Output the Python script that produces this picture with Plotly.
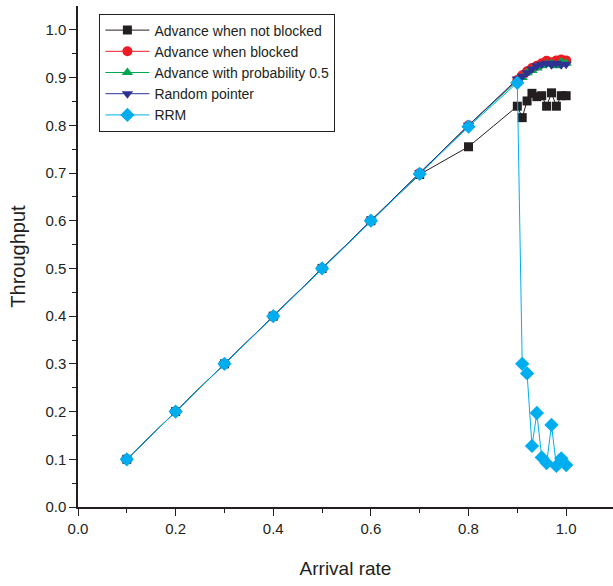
import plotly.graph_objects as go

x_low = [0.1, 0.2, 0.3, 0.4, 0.5, 0.6, 0.7, 0.8]
x_high = [0.90, 0.91, 0.92, 0.93, 0.94, 0.95, 0.96, 0.97, 0.98, 0.99, 1.00]
x_vals = x_low + x_high

y_not_blocked = [0.10, 0.20, 0.30, 0.40, 0.50, 0.60, 0.697, 0.755,
                 0.840, 0.816, 0.851, 0.867, 0.860, 0.862, 0.840, 0.868, 0.840, 0.862, 0.862]
y_blocked = [0.10, 0.20, 0.30, 0.40, 0.50, 0.60, 0.70, 0.80,
             0.895, 0.905, 0.913, 0.920, 0.925, 0.930, 0.935, 0.932, 0.936, 0.938, 0.936]
y_prob = [0.10, 0.20, 0.30, 0.40, 0.50, 0.60, 0.70, 0.80,
          0.893, 0.900, 0.910, 0.915, 0.920, 0.925, 0.928, 0.930, 0.925, 0.933, 0.930]
y_random = [0.10, 0.20, 0.30, 0.40, 0.50, 0.60, 0.70, 0.80,
            0.897, 0.903, 0.910, 0.918, 0.925, 0.928, 0.930, 0.927, 0.930, 0.927, 0.928]
y_rrm = [0.10, 0.20, 0.30, 0.40, 0.50, 0.60, 0.698, 0.797,
         0.889, 0.300, 0.280, 0.128, 0.197, 0.104, 0.092, 0.172, 0.086, 0.102, 0.088]

names = ["Advance when not blocked", "Advance when blocked",
         "Advance with probability 0.5", "Random pointer", "RRM"]
colors = ["#231f20", "#ed1c24", "#00a651", "#2e3192", "#00aeef"]
symbols = ["square", "circle", "triangle-up", "triangle-down", "diamond"]
sizes = [9, 10, 10, 10, 11]
series = [y_not_blocked, y_blocked, y_prob, y_random, y_rrm]

FONT = "Liberation Sans, Arial, sans-serif"

fig = go.Figure()
for name, ys, c, s, sz in zip(names, series, colors, symbols, sizes):
    fig.add_trace(go.Scatter(
        x=x_vals, y=ys, name=name, mode="lines+markers",
        line=dict(color=c, width=1),
        marker=dict(symbol=s, size=sz, color=c, line=dict(width=0)),
    ))

fig.update_layout(
    width=613, height=586,
    margin=dict(l=78, r=0, t=6, b=79),
    paper_bgcolor="white", plot_bgcolor="white",
    font=dict(family=FONT, color="#231f20", size=15),
    showlegend=True,
    legend=dict(
        x=0.04, y=0.985, xanchor="left", yanchor="top",
        bgcolor="white", bordercolor="#231f20", borderwidth=1,
        font=dict(family=FONT, size=14, color="#231f20"),
        tracegroupgap=0, itemwidth=44,
    ),
    xaxis=dict(
        range=[0, 1.096], tickvals=[0, 0.2, 0.4, 0.6, 0.8, 1.0],
        ticktext=["0.0", "0.2", "0.4", "0.6", "0.8", "1.0"],
        ticks="outside", ticklen=7, tickwidth=1, tickcolor="#231f20",
        minor=dict(tickvals=[0.1, 0.3, 0.5, 0.7, 0.9], ticks="outside", ticklen=4, tickcolor="#231f20"),
        showline=True, linecolor="#231f20", linewidth=1.5,
        showgrid=False, zeroline=False,
        tickfont=dict(size=15),
        title=dict(text="Arrival rate", font=dict(size=19), standoff=26),
    ),
    yaxis=dict(
        range=[0, 1.05], tickvals=[i / 10 for i in range(11)],
        ticktext=[f"{i / 10:.1f}" for i in range(11)],
        ticks="outside", ticklen=7, tickwidth=1, tickcolor="#231f20",
        minor=dict(tickvals=[0.05 + i / 10 for i in range(10)], ticks="outside", ticklen=4, tickcolor="#231f20"),
        showline=True, linecolor="#231f20", linewidth=1.5,
        showgrid=False, zeroline=False,
        tickfont=dict(size=15),
        title=dict(text="Throughput", font=dict(size=20), standoff=14),
    ),
)

fig.write_html("out.html")
